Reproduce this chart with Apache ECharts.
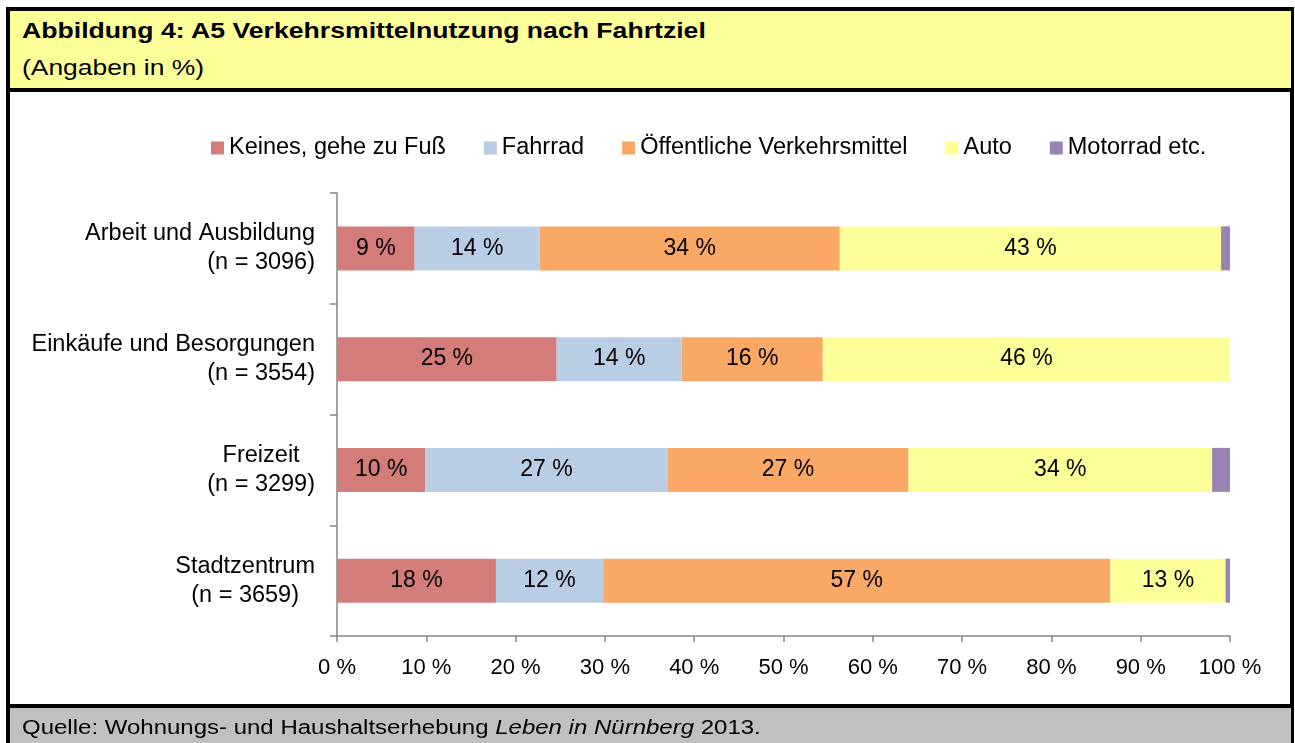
<!DOCTYPE html>
<html>
<head>
<meta charset="utf-8">
<script src="https://cdn.jsdelivr.net/npm/echarts@6/dist/echarts.min.js"></script>
<style>
  html, body { margin: 0; padding: 0; background: #fff; font-family: 'Liberation Sans', Arial, sans-serif; }
  #chart { position: absolute; left: 0; top: 0; width: 1295px; height: 743px; }
  .frame { position: absolute; left: 6px; top: 7px; width: 1280px; height: 760px; border: 4px solid #000; }
  .head { position: absolute; left: 10px; top: 11px; width: 1281px; height: 77px; background: #ffff99; border-bottom: 4px solid #000; }
  .head span { position: absolute; left: 12px; font-size: 22px; color: #000; white-space: nowrap; transform-origin: 0 50%; }
  .head .t1 { top: 7px; font-weight: bold; transform: scaleX(1.21); }
  .head .t2 { top: 44px; transform: scaleX(1.2); }
  .foot { position: absolute; left: 10px; top: 704px; width: 1281px; height: 40px; background: #c0c0c0; border-top: 4px solid #000; }
  .foot span { position: absolute; left: 12px; top: 8px; font-size: 20px; color: #000; white-space: nowrap; transform: scaleX(1.2); transform-origin: 0 50%; }
</style>
</head>
<body>
<div id="chart"></div>
<div class="frame"></div>
<div class="head">
  <span class="t1">Abbildung 4: A5 Verkehrsmittelnutzung nach Fahrtziel</span>
  <span class="t2">(Angaben in %)</span>
</div>
<div class="foot"><span>Quelle: Wohnungs- und Haushaltserhebung <i>Leben in Nürnberg</i> 2013.</span></div>
<script>
// Fahrtziele mit Stichprobengröße
var categories = ['Arbeit und Ausbildung', 'Einkäufe und Besorgungen', 'Freizeit', 'Stadtzentrum']
var sampleSizes = [3096, 3554, 3299, 3659]

// Anteile in %
var walking = [8.7, 24.6, 9.9, 17.8]
var bicycle = [14.0, 14.0, 27.1, 12.0]
var publicTransport = [33.6, 15.8, 27.0, 56.8]
var car = [42.7, 45.6, 34.0, 12.9]
var motorbike = [1.0, 0, 2.0, 0.5]

var seriesNames = ['Keines, gehe zu Fuß', 'Fahrrad', 'Öffentliche Verkehrsmittel', 'Auto', 'Motorrad etc.']
var seriesValues = [walking, bicycle, publicTransport, car, motorbike]
var colors = ['#d37c7a', '#b9cde5', '#f9a965', '#ffff99', '#9983b5']

var axisLabels = categories.map(function (c, i) {
  return c + '\n(n = ' + sampleSizes[i] + ')'
})

var chart = echarts.init(document.getElementById('chart'))

var series = seriesNames.map(function (name, i) {
  return {
    name: name,
    type: 'bar',
    stack: 'total',
    barWidth: 44,
    itemStyle: { color: colors[i] },
    label: {
      show: i < 4,
      position: 'inside',
      color: '#000',
      fontSize: 23,
      fontFamily: 'Liberation Sans',
      formatter: function (p) {
        return p.value > 3 ? Math.round(p.value) + ' %' : ''
      }
    },
    data: seriesValues[i]
  }
})

chart.setOption({
  backgroundColor: '#fff',
  animation: false,
  color: colors,
  legend: {
    left: 206,
    top: 131,
    icon: 'rect',
    itemWidth: 13,
    itemHeight: 13,
    itemGap: 38,
    textStyle: {
      color: '#000',
      fontSize: 23.5,
      fontFamily: 'Liberation Sans'
    },
    data: seriesNames
  },
  grid: {
    left: 337,
    right: 65,
    top: 193,
    bottom: 107
  },
  xAxis: {
    type: 'value',
    min: 0,
    max: 100,
    interval: 10,
    axisLine: { show: true, lineStyle: { color: '#868686', width: 1.5 } },
    axisTick: { show: true, length: 6, lineStyle: { color: '#868686', width: 1.5 } },
    splitLine: { show: false },
    axisLabel: {
      margin: 21,
      color: '#000',
      fontSize: 22,
      fontFamily: 'Liberation Sans',
      formatter: '{value} %'
    }
  },
  yAxis: {
    type: 'category',
    inverse: true,
    data: axisLabels,
    axisLine: { show: true, lineStyle: { color: '#868686', width: 1.5 } },
    axisTick: { show: true, length: 7, lineStyle: { color: '#868686', width: 1.5 } },
    axisLabel: {
      margin: 22,
      color: '#000',
      fontSize: 23.5,
      fontFamily: 'Liberation Sans',
      lineHeight: 29,
      formatter: function (value) {
        var lines = value.split('\n')
        // lange Bezeichnungen rechtsbündig, kurze zentriert
        var style = lines[0].length > 15 ? 'r' : 'c'
        return '{' + style + '|' + lines[0] + '}\n{' + style + '|' + lines[1] + '}'
      },
      rich: {
        r: { align: 'right', fontSize: 23.5, lineHeight: 29, fontFamily: 'Liberation Sans', color: '#000' },
        c: { align: 'center', fontSize: 23.5, lineHeight: 29, fontFamily: 'Liberation Sans', color: '#000' }
      }
    }
  },
  series: series
})
</script>
</body>
</html>
